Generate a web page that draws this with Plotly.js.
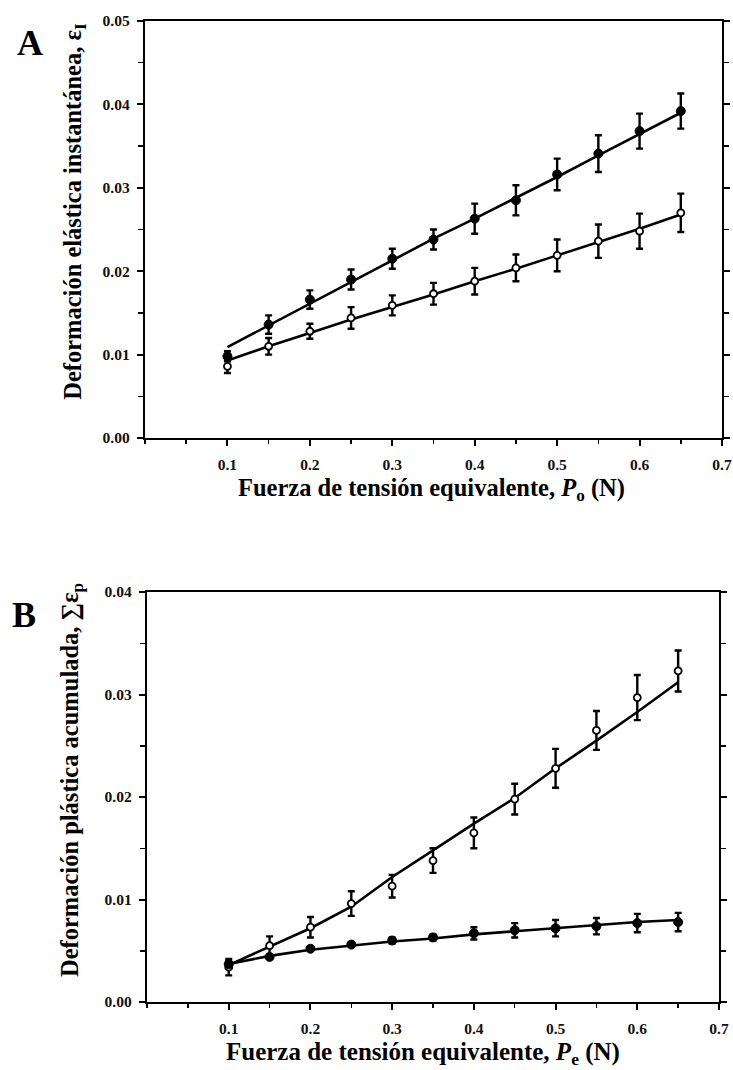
<!DOCTYPE html>
<html>
<head>
<meta charset="utf-8">
<script src="https://cdn.plot.ly/plotly-3.0.1.min.js"></script>
<style>html,body{margin:0;padding:0;background:#fff;}#chart{width:733px;height:1070px;}</style>
</head>
<body>
<div id="chart"></div>
<script>
// Shared x values: equivalent tensile force P (N)
const forceP = [0.10, 0.15, 0.20, 0.25, 0.30, 0.35, 0.40, 0.45, 0.50, 0.55, 0.60, 0.65];

// Panel A: instantaneous elastic strain
const aFilled    = [0.0098, 0.0136, 0.0166, 0.0190, 0.0215, 0.0238, 0.0263, 0.0285, 0.0316, 0.0341, 0.0368, 0.0392];
const aFilledErr = [0.0006, 0.0011, 0.0011, 0.0012, 0.0012, 0.0012, 0.0018, 0.0018, 0.0019, 0.0022, 0.0021, 0.0021];
const aFilledFit = [0.0109, 0.0135, 0.0162, 0.0188, 0.0213, 0.0239, 0.0263, 0.0288, 0.0313, 0.0339, 0.0364, 0.0390];
const aOpen      = [0.0086, 0.0110, 0.0128, 0.0144, 0.0159, 0.0173, 0.0188, 0.0204, 0.0219, 0.0236, 0.0248, 0.0270];
const aOpenErr   = [0.0008, 0.0010, 0.0009, 0.0013, 0.0012, 0.0013, 0.0016, 0.0016, 0.0019, 0.0020, 0.0021, 0.0023];
const aOpenFit   = [0.0093, 0.0110, 0.0126, 0.0142, 0.0157, 0.0172, 0.0188, 0.0203, 0.0219, 0.0235, 0.0251, 0.0268];

// Panel B: accumulated plastic strain
const bOpen      = [0.0034, 0.0055, 0.0073, 0.0096, 0.0113, 0.0138, 0.0165, 0.0198, 0.0228, 0.0265, 0.0297, 0.0323];
const bOpenErr   = [0.0008, 0.0009, 0.0010, 0.0012, 0.0011, 0.0012, 0.0015, 0.0015, 0.0019, 0.0019, 0.0022, 0.0020];
const bOpenFit   = [0.0036, 0.0054, 0.0072, 0.0093, 0.0122, 0.0148, 0.0174, 0.0199, 0.0228, 0.0255, 0.0283, 0.0312];
const bFilled    = [0.0037, 0.0044, 0.0052, 0.0056, 0.0060, 0.0063, 0.0067, 0.0070, 0.0072, 0.0074, 0.0077, 0.0078];
const bFilledErr = [0.0003, 0.0002, 0.0002, 0.0002, 0.0003, 0.0003, 0.0006, 0.0007, 0.0008, 0.0008, 0.0009, 0.0009];
const bFilledFit = [0.0037, 0.0045, 0.0051, 0.0055, 0.0059, 0.0062, 0.0066, 0.0069, 0.0072, 0.0075, 0.0078, 0.0080];

// Tick labels
const xTickVals = [0.1, 0.2, 0.3, 0.4, 0.5, 0.6, 0.7];
const xTickText = ['0.1', '0.2', '0.3', '0.4', '0.5', '0.6', '0.7'];
const aYTickVals = [0, 0.01, 0.02, 0.03, 0.04, 0.05];
const aYTickText = ['0.00', '0.01', '0.02', '0.03', '0.04', '0.05'];
const bYTickVals = [0, 0.01, 0.02, 0.03, 0.04];
const bYTickText = ['0.00', '0.01', '0.02', '0.03', '0.04'];

const serif = 'Liberation Serif, Times New Roman, serif';

function fitTrace(y, xa, ya) {
  return {x: forceP, y: y, xaxis: xa, yaxis: ya, type: 'scatter', mode: 'lines',
          line: {color: '#000', width: 2.6}, hoverinfo: 'skip', showlegend: false};
}
function ptsTrace(y, err, filled, xa, ya) {
  return {x: forceP, y: y, xaxis: xa, yaxis: ya, type: 'scatter', mode: 'markers',
          error_y: {type: 'data', array: err, visible: true, color: '#000', thickness: 2.4, width: 3.5},
          marker: filled ? {symbol: 'circle', size: 9, color: '#000', line: {color: '#000', width: 1}}
                         : {symbol: 'circle', size: 7, color: '#fff', line: {color: '#000', width: 1.8}},
          showlegend: false};
}

const data = [
  fitTrace(aFilledFit, 'x', 'y'), fitTrace(aOpenFit, 'x', 'y'),
  ptsTrace(aFilled, aFilledErr, true, 'x', 'y'), ptsTrace(aOpen, aOpenErr, false, 'x', 'y'),
  fitTrace(bOpenFit, 'x2', 'y2'), fitTrace(bFilledFit, 'x2', 'y2'),
  ptsTrace(bOpen, bOpenErr, false, 'x2', 'y2'), ptsTrace(bFilled, bFilledErr, true, 'x2', 'y2')
];

function xAxis(domain, anchor) {
  return {domain: domain, anchor: anchor, range: [0, 0.7], showgrid: false, zeroline: false,
          showline: true, linecolor: '#000', linewidth: 2.2, mirror: true,
          ticks: 'outside', ticklen: 6, tickwidth: 2, tickcolor: '#000',
          tickvals: xTickVals, ticktext: xTickText, ticklabelstandoff: 5,
          minor: {dtick: 0.05, tick0: 0, ticks: 'outside', ticklen: 4, tickwidth: 1.5, tickcolor: '#000'},
          tickfont: {family: serif, size: 15.5, color: '#111', weight: 'bold'}};
}
function yAxis(domain, anchor, range, vals, text) {
  return {domain: domain, anchor: anchor, range: range, showgrid: false, zeroline: false,
          showline: true, linecolor: '#000', linewidth: 2.2, mirror: 'allticks',
          ticks: 'outside', ticklen: 6, tickwidth: 2, tickcolor: '#000',
          tickvals: vals, ticktext: text, ticklabelstandoff: 4,
          minor: {dtick: 0.005, tick0: 0, ticks: 'outside', ticklen: 5, tickwidth: 1.5, tickcolor: '#000'},
          tickfont: {family: serif, size: 15.5, color: '#111', weight: 'bold'}};
}

const xTitleFontA = {family: serif, size: 24.5, color: '#000', weight: 'bold'};
const xTitleFontB = {family: serif, size: 25, color: '#000', weight: 'bold'};
const yTitleFontA = {family: serif, size: 24.5, color: '#000', weight: 'bold'};
const yTitleFontB = {family: serif, size: 24.5, color: '#000', weight: 'bold'};
const letterFont = {family: serif, size: 36, color: '#000', weight: 'bold'};

const layout = {
  width: 733, height: 1070,
  margin: {l: 145, r: 11, t: 21, b: 68},
  paper_bgcolor: '#fff', plot_bgcolor: '#fff',
  showlegend: false,
  xaxis: xAxis([0, 1], 'y'),
  yaxis: yAxis([0.5749, 1], 'x', [0, 0.05], aYTickVals, aYTickText),
  xaxis2: xAxis([0.0035, 0.9948], 'y2'),
  yaxis2: yAxis([0, 0.4179], 'x2', [0, 0.04], bYTickVals, bYTickText),
  annotations: [
    {text: 'A', xref: 'paper', yref: 'paper', x: -0.2, y: 0.9776, xanchor: 'center', yanchor: 'middle', showarrow: false, font: letterFont},
    {text: 'B', xref: 'paper', yref: 'paper', x: -0.21, y: 0.3945, xanchor: 'center', yanchor: 'middle', showarrow: false, font: letterFont},
    {text: 'Fuerza de tensión equivalente, <i>P</i><sub>o</sub> (N)', xref: 'paper', yref: 'paper', x: 0.4966, y: 0.5225, xanchor: 'center', yanchor: 'middle', showarrow: false, font: xTitleFontA},
    {text: 'Fuerza de tensión equivalente, <i>P</i><sub>e</sub> (N)', xref: 'paper', yref: 'paper', x: 0.4818, y: -0.0525, xanchor: 'center', yanchor: 'middle', showarrow: false, font: xTitleFontB},
    {text: 'Deformación elástica instantánea, ε<sub>I</sub>', xref: 'paper', yref: 'paper', x: -0.1213, y: 0.8055, xanchor: 'center', yanchor: 'middle', textangle: -90, showarrow: false, font: yTitleFontA},
    {text: 'Deformación plástica acumulada, ∑ε<sub>p</sub>', xref: 'paper', yref: 'paper', x: -0.1265, y: 0.2263, xanchor: 'center', yanchor: 'middle', textangle: -90, showarrow: false, font: yTitleFontB}
  ]
};

Plotly.newPlot('chart', data, layout, {displayModeBar: false, staticPlot: true});
</script>
</body>
</html>
